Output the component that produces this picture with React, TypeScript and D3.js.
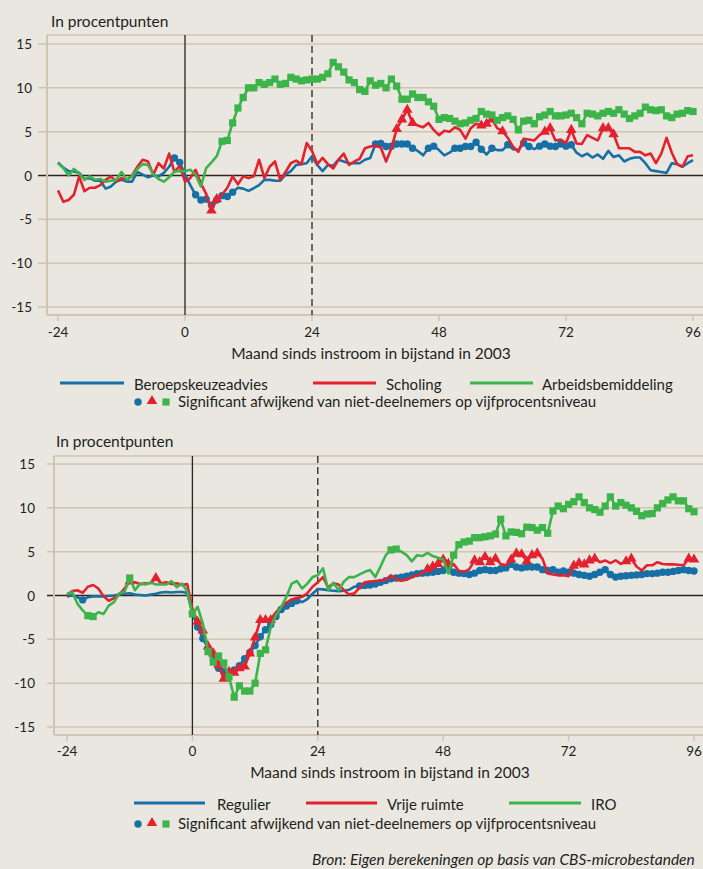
import React from "react";
import * as d3 from "d3";

// months since entry into welfare (2003)
const months = d3.range(-24, 97);
const xTicks = [-24, 0, 24, 48, 72, 96];
const yTicks = [15, 10, 5, 0, -5, -10, -15];

// top panel
const beroepskeuze = [
  1.5, 0.9, 0.5, 0.45, 0.3, -0.4, -0.3, -0.6, -0.6, -1.5, -1.25, -0.7, -0.5, -0.7, -0.7, 0.4, 0.1, -0.2, 0, -0.1, 0.3, 1.0, 2.0, 1.5,
  0.1, -1.1, -2.2, -2.8, -2.7, -3.4, -2.8, -2.3, -2.4, -1.9, -1.4, -1.5, -1.75, -1.45, -1.1, -0.5, -0.5, -0.6, -0.6, 0.1, 0.5, 1.2, 1.3, 1.4,
  2.2, 1.2, 0.5, 1.2, 1.1, 1.8, 1.6, 1.4, 1.4, 1.4, 1.8, 2.0, 3.6, 3.65, 3.3, 3.35, 3.6, 3.6, 3.6, 3.1, 2.8, 2.3, 3.1, 3.35,
  2.9, 2.3, 2.6, 3.1, 3.1, 3.3, 3.3, 3.8, 3.0, 2.4, 3.1, 2.9, 2.9, 3.5, 3.0, 2.9, 3.7, 3.3, 3.0, 3.35, 3.6, 3.35, 3.3, 3.6,
  3.35, 3.5, 2.6, 2.2, 2.5, 2.05, 2.4, 1.9, 2.8, 2.1, 2.3, 1.6, 1.9, 2.05, 2.05, 1.4, 0.6, 0.5, 0.4, 0.3, 1.4, 1.3, 1.0, 1.4,
  1.75,
];
const scholing = [
  -1.7, -3.0, -2.8, -2.2, -0.1, -1.8, -1.4, -1.4, -1.1, -0.5, -0.1, -0.7, -0.3, -0.5, 0, 1.0, 1.8, 1.6, 0.1, 1.4, 0.8, 2.5, 0.4, 1.1,
  -0.7, -0.3, 0.65, -0.9, -2.1, -4.0, -2.7, -2.2, -1.4, -0.1, -1.0, -0.1, -0.3, -0.1, 1.8, -0.3, 1.0, 1.6, -0.5, 0.4, 1.4, 1.7, 1.3, 3.7,
  2.8, 1.3, 2.0, 1.3, 0.8, 1.8, 2.5, 1.2, 1.6, 1.9, 3.1, 3.3, 3.4, 3.2, 1.6, 3.1, 5.3, 6.4, 7.5, 6.0, 5.7, 5.5, 6.0, 5.2,
  4.6, 5.1, 5.0, 5.5, 5.2, 4.2, 5.4, 5.9, 5.7, 5.9, 6.4, 5.4, 5.05, 4.3, 3.3, 2.7, 4.2, 4.1, 4.0, 4.6, 5.0, 5.4, 4.0, 4.1,
  3.7, 5.2, 3.65, 3.6, 4.6, 4.3, 4.0, 5.4, 5.4, 4.7, 3.1, 3.1, 3.1, 2.7, 2.7, 2.3, 2.5, 1.4, 2.5, 4.3, 2.6, 1.3, 1.0, 2.2,
  2.3,
];
const arbeidsbemiddeling = [
  1.4, 0.85, 0, 0.75, 0.25, -0.5, -0.1, -0.5, -0.4, -0.7, -0.6, -0.5, 0.4, -0.5, -0.1, 0.75, 1.3, 1.2, 0.15, -0.4, -0.7, -0.2, 0.45, 0.5,
  0.5, 0.65, 0.1, -1.25, 0.85, 1.5, 2.2, 3.9, 4.0, 6.0, 7.7, 8.9, 10.0, 10.0, 10.6, 10.4, 10.6, 11.0, 10.4, 10.5, 11.2, 11.0, 10.8, 10.9,
  11.0, 11.0, 11.2, 11.6, 12.9, 12.4, 11.8, 10.9, 10.6, 9.8, 9.6, 10.8, 10.3, 10.5, 10.0, 11.0, 10.2, 8.7, 8.7, 9.3, 8.9, 8.9, 8.4, 7.9,
  6.4, 6.6, 6.5, 6.2, 5.9, 6.0, 6.3, 6.5, 7.3, 7.0, 6.9, 6.3, 6.6, 6.8, 6.4, 5.2, 6.2, 6.3, 5.9, 6.7, 6.9, 7.3, 6.8, 6.8,
  6.9, 7.1, 6.6, 5.9, 7.1, 7.0, 6.8, 7.1, 7.3, 7.1, 7.5, 7.0, 6.5, 6.8, 7.1, 7.8, 7.5, 7.4, 7.5, 6.8, 6.6, 7.0, 7.1, 7.4,
  7.3,
];
// significant months, as [from, to] spans
const beroepskeuzeSig = [[-2, -1], [2, 9], [36, 43], [46, 47], [51, 56], [58, 58], [61, 61], [64, 65], [67, 73]];
const scholingSig = [[5, 6], [40, 43], [56, 58], [60, 60], [68, 69], [73, 73], [79, 81]];
const arbeidsSig = [[7, 96]];

// bottom panel
const regulier = [
  -0.1, 0, -0.2, -0.5, -0.2, -0.1, -0.1, -0.1, -0.05, 0, 0.1, 0.2, 0.25, 0.1, 0.05, 0, 0.1, 0.2, 0.35, 0.4, 0.35, 0.4, 0.4, 0.3,
  -2.0, -3.6, -4.9, -6.0, -7.3, -8.3, -8.7, -8.8, -8.5, -8.0, -7.2, -6.5, -5.7, -4.7, -3.9, -3.3, -2.4, -1.6, -1.2, -0.9, -0.6, -0.75, -0.4, 0.2,
  0.75, 0.7, 0.6, 0.55, 0.5, 0.55, 0.65, 1.0, 1.1, 1.15, 1.2, 1.3, 1.5, 1.7, 1.9, 2.0, 2.1, 2.2, 2.35, 2.5, 2.55, 2.6, 2.65, 2.75,
  2.85, 3.05, 2.65, 2.55, 2.5, 2.4, 2.55, 2.85, 2.95, 2.85, 2.85, 3.05, 3.15, 3.55, 3.25, 3.15, 3.25, 3.25, 3.25, 2.95, 2.85, 2.95, 2.65, 2.8,
  2.65, 2.55, 2.4, 2.3, 2.2, 2.4, 2.65, 2.95, 2.4, 2.1, 2.2, 2.25, 2.3, 2.35, 2.4, 2.5, 2.5, 2.55, 2.65, 2.65, 2.75, 2.85, 2.95, 2.85,
  2.8,
];
const vrijeRuimte = [
  0.0, 0.5, 0.6, 0.3, 1.0, 1.2, 0.8, -0.1, -0.6, -0.3, 0.1, 0.8, 1.6, 1.5, 1.3, 1.4, 1.4, 2.0, 1.4, 1.5, 1.3, 1.4, 1.2, 1.3,
  -1.5, -3.0, -4.0, -5.8, -6.6, -7.9, -9.5, -8.7, -8.8, -8.3, -8.1, -6.6, -4.8, -2.8, -2.8, -2.8, -1.9, -1.3, -0.8, -0.45, -0.3, -0.15, 0.25, 1.0,
  1.5, 2.1, 0.9, 1.4, 1.25, 0.6, 0.1, 0.25, 0.9, 1.5, 1.6, 1.65, 1.7, 1.8, 2.3, 1.8, 1.7, 1.8, 2.1, 2.3, 2.55, 3.0, 3.3, 3.6,
  4.1, 3.6, 3.6, 2.8, 2.7, 3.0, 4.0, 3.8, 4.4, 3.8, 4.2, 3.6, 3.45, 4.1, 4.8, 4.7, 3.9, 4.6, 4.8, 4.2, 2.5, 2.4, 2.3, 2.3,
  2.2, 3.4, 3.7, 3.55, 4.0, 4.2, 3.8, 4.0, 3.7, 4.0, 3.6, 3.9, 4.2, 3.3, 2.85, 3.45, 3.45, 3.8, 3.6, 3.55, 3.55, 3.5, 3.45, 4.2,
  4.1,
];
const iro = [
  0.2, 0.4, -0.95, -1.7, -2.3, -2.4, -1.9, -2.1, -1.15, -0.75, 0.25, 0.4, 2.0, 0.6, 1.35, 1.25, 1.5, 1.25, 1.25, 1.25, 1.65, 0.95, 1.35, 0.5,
  -2.1, -1.3, -3.2, -6.4, -7.6, -6.9, -7.7, -9.3, -11.6, -10.3, -10.9, -10.9, -10.0, -6.6, -6.2, -3.6, -2.25, -1.3, -0.15, 1.35, 1.65, 0.8, 1.35, 2.1,
  2.3, 3.1, 0.6, 1.45, 0.6, 1.6, 2.1, 2.1, 2.4, 2.7, 2.9, 2.1, 3.3, 4.6, 5.2, 5.3, 5.0, 4.6, 3.9, 4.6, 4.5, 4.85, 4.5, 4.3,
  4.1, 2.5, 4.6, 5.8, 6.1, 6.2, 6.6, 6.6, 6.7, 6.8, 7.0, 8.7, 6.8, 7.25, 7.2, 7.05, 7.8, 7.75, 7.45, 7.75, 7.1, 9.65, 10.2, 9.9,
  10.4, 10.7, 11.25, 10.6, 10.0, 9.8, 9.5, 10.2, 11.25, 10.2, 10.6, 10.3, 10.0, 9.6, 9.1, 9.3, 9.35, 10.0, 10.5, 10.9, 11.25, 10.8, 10.8, 9.9,
  9.55,
];
const regulierSig = [[-21, -21], [0, 20], [32, 96]];
const vrijeSig = [[-12, -12], [-7, -7], [1, 15], [45, 49], [54, 58], [61, 66], [73, 77], [83, 84], [95, 96]];
const iroSig = [[-20, -19], [-12, -12], [0, 0], [3, 14], [38, 39], [50, 96]];

const BLUE = "#1670a6";
const RED = "#e4222f";
const GREEN = "#3cb44a";
const BG = "#e9e7e0";
const GRID = "#d0c5b2";
const DARK = "#2e2219";
const TEXT = "#231f20";
const FONT = "Lato, 'Open Sans', sans-serif";

const isSig = (spans, m) => spans.some(([a, b]) => m >= a && m <= b);

function Marker({ shape, x, y, color }) {
  if (shape === "circle") return <circle cx={x} cy={y} r={3.7} fill={color} />;
  const type = shape === "triangle" ? d3.symbolTriangle : d3.symbolSquare;
  const size = shape === "triangle" ? 48 : 52;
  return <path d={d3.symbol(type, size)()} transform={`translate(${x},${y})`} fill={color} />;
}

function Panel({ L, series, legend }) {
  const x = d3.scaleLinear().domain([-24, 96]).range(L.xRange);
  const y = d3.scaleLinear().domain([-15, 15]).range(L.yRange);
  const line = d3
    .line<number>()
    .x((d, i) => x(months[i]))
    .y((d) => y(d));

  return (
    <g fontFamily={FONT} fill={TEXT}>
      <text x={L.titleX} y={L.titleY} fontSize={15.5} dominantBaseline="central">
        In procentpunten
      </text>
      {/* frame */}
      <line x1={L.frameLeft} x2={703} y1={L.frameTop} y2={L.frameTop} stroke={GRID} strokeWidth={1.5} />
      {yTicks.map((t) => (
        <g key={t}>
          <line
            x1={L.tickLeft}
            x2={703}
            y1={y(t)}
            y2={y(t)}
            stroke={t === 0 ? DARK : GRID}
            strokeWidth={t === 0 ? 1.4 : 1.5}
          />
          <text x={L.yLabelX} y={y(t)} fontSize={13.5} textAnchor="end" dominantBaseline="central">
            {String(t)}
          </text>
        </g>
      ))}
      <line x1={L.frameLeft} x2={L.frameLeft} y1={L.frameTop} y2={L.frameBottom} stroke={GRID} strokeWidth={2} />
      <line x1={L.frameLeft} x2={703} y1={L.frameBottom} y2={L.frameBottom} stroke={GRID} strokeWidth={2} />
      {xTicks.map((t) => (
        <g key={t}>
          <line x1={x(t)} x2={x(t)} y1={L.frameBottom} y2={L.frameBottom + 6} stroke={GRID} strokeWidth={1.5} />
          <text x={x(t)} y={L.xLabelY} fontSize={13.5} textAnchor="middle" dominantBaseline="central">
            {String(t)}
          </text>
        </g>
      ))}
      <line x1={x(0)} x2={x(0)} y1={L.frameTop} y2={L.frameBottom} stroke={DARK} strokeWidth={1.3} />
      <line
        x1={x(24)}
        x2={x(24)}
        y1={L.frameTop}
        y2={L.frameBottom}
        stroke={DARK}
        strokeWidth={1.3}
        strokeDasharray="7,4"
      />
      <text x={L.axisTitleX} y={L.axisTitleY} fontSize={15.5} textAnchor="middle" dominantBaseline="central">
        Maand sinds instroom in bijstand in 2003
      </text>

      {series.map((s) => (
        <g key={s.name}>
          <path d={line(s.values)} fill="none" stroke={s.color} strokeWidth={2.6} strokeLinejoin="round" />
          {s.values.map((v, i) =>
            isSig(s.sig, months[i]) ? (
              <Marker key={i} shape={s.shape} x={x(months[i])} y={y(v)} color={s.color} />
            ) : null
          )}
        </g>
      ))}

      {/* legend */}
      {legend.map((it, i) => (
        <g key={it.name}>
          <line x1={it.x1} x2={it.x2} y1={L.legendY} y2={L.legendY} stroke={series[i].color} strokeWidth={3} />
          <text x={it.tx} y={L.legendY + 1} fontSize={15} dominantBaseline="central">
            {it.name}
          </text>
        </g>
      ))}
      <Marker shape="circle" x={138} y={L.legendY2 + 1} color={series[0].color} />
      <Marker shape="triangle" x={152} y={L.legendY2} color={series[1].color} />
      <Marker shape="square" x={166} y={L.legendY2 + 1} color={series[2].color} />
      <text x={178} y={L.legendY2} fontSize={15} dominantBaseline="central">
        Significant afwijkend van niet-deelnemers op vijfprocentsniveau
      </text>
    </g>
  );
}

const topLayout = {
  frameLeft: 47, frameTop: 35, frameBottom: 315, xRange: [58, 693], yRange: [307, 44],
  tickLeft: 38, yLabelX: 32, xLabelY: 332, titleX: 51, titleY: 21,
  axisTitleX: 371, axisTitleY: 353, legendY: 383, legendY2: 401,
};
const bottomLayout = {
  frameLeft: 54, frameTop: 456, frameBottom: 735, xRange: [67, 694], yRange: [727, 464],
  tickLeft: 47, yLabelX: 35, xLabelY: 751, titleX: 56, titleY: 441,
  axisTitleX: 390, axisTitleY: 772, legendY: 803, legendY2: 823,
};

export default function App() {
  const topSeries = [
    { name: "Beroepskeuzeadvies", values: beroepskeuze, sig: beroepskeuzeSig, color: BLUE, shape: "circle" },
    { name: "Scholing", values: scholing, sig: scholingSig, color: RED, shape: "triangle" },
    { name: "Arbeidsbemiddeling", values: arbeidsbemiddeling, sig: arbeidsSig, color: GREEN, shape: "square" },
  ];
  const bottomSeries = [
    { name: "Regulier", values: regulier, sig: regulierSig, color: BLUE, shape: "circle" },
    { name: "Vrije ruimte", values: vrijeRuimte, sig: vrijeSig, color: RED, shape: "triangle" },
    { name: "IRO", values: iro, sig: iroSig, color: GREEN, shape: "square" },
  ];
  const topLegend = [
    { name: "Beroepskeuzeadvies", x1: 60, x2: 124, tx: 134 },
    { name: "Scholing", x1: 313, x2: 376, tx: 386 },
    { name: "Arbeidsbemiddeling", x1: 470, x2: 533, tx: 542 },
  ];
  const bottomLegend = [
    { name: "Regulier", x1: 134, x2: 205, tx: 217 },
    { name: "Vrije ruimte", x1: 306, x2: 377, tx: 387 },
    { name: "IRO", x1: 509, x2: 581, tx: 591 },
  ];

  return (
    <>
      <style>{`body{margin:0;background:${BG}}`}</style>
      <svg width={703} height={869} style={{ display: "block", background: BG }}>
        <Panel L={topLayout} series={topSeries} legend={topLegend} />
        <Panel L={bottomLayout} series={bottomSeries} legend={bottomLegend} />
        <text
          x={312}
          y={859}
          fontFamily={FONT}
          fontStyle="italic"
          fontSize={15.5}
          fill={TEXT}
          dominantBaseline="central"
        >
          Bron: Eigen berekeningen op basis van CBS-microbestanden
        </text>
      </svg>
    </>
  );
}
